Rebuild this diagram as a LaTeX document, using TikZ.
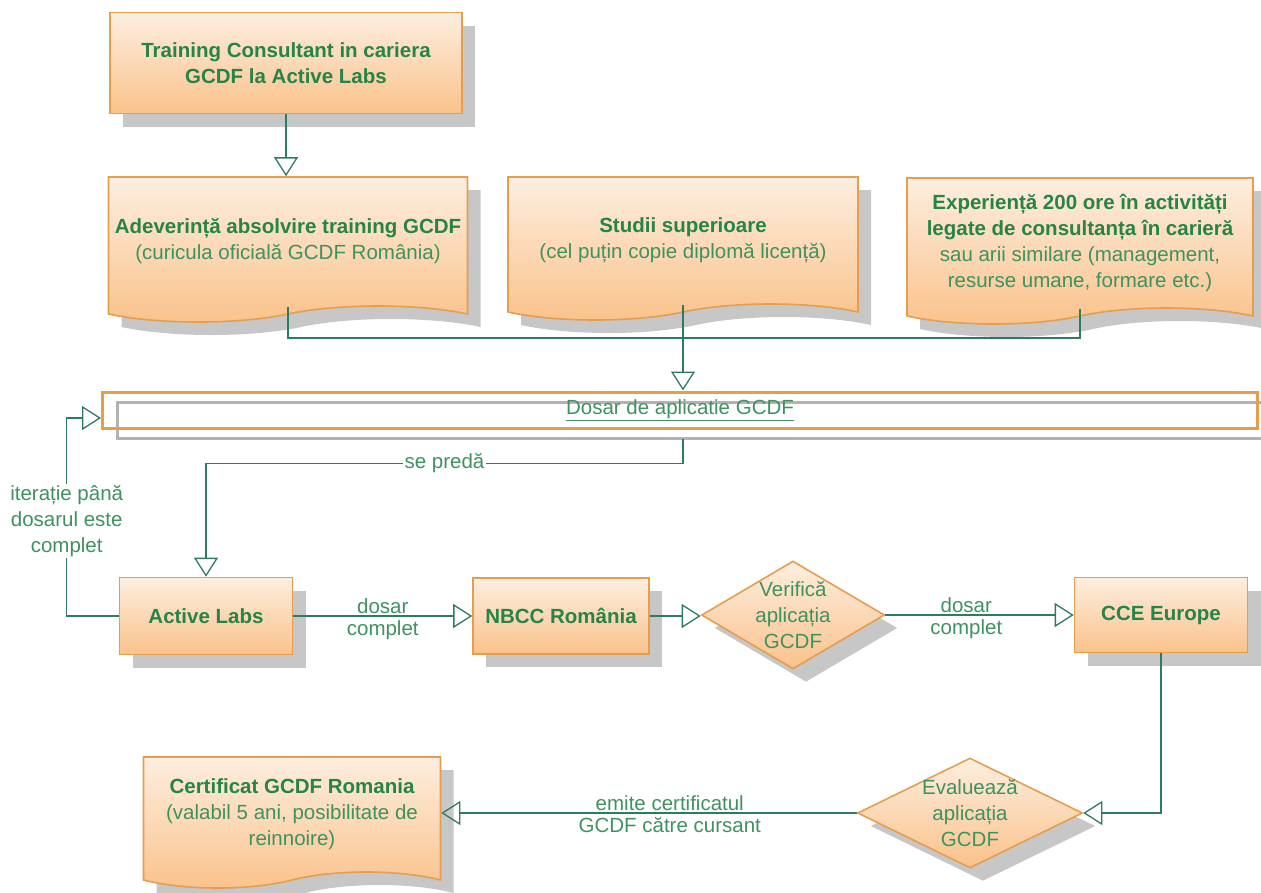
\documentclass[tikz,border=0pt]{standalone}
\usepackage{fontspec}
\setmainfont{Liberation Sans}
\usetikzlibrary{shapes.geometric, shapes.symbols, arrows.meta, shadows}

\definecolor{orbrd}{RGB}{230,158,78}
\definecolor{ortop}{RGB}{253,238,224}
\definecolor{orbot}{RGB}{250,194,138}
\definecolor{txtdark}{RGB}{38,132,72}
\definecolor{txtlight}{RGB}{62,146,96}
\definecolor{lijn}{RGB}{44,124,94}

\begin{document}
\begin{tikzpicture}[x=1pt, y=-1pt, font=\fontsize{20.5}{26}\selectfont]
  \tikzset{
    shade/.style={drop shadow={shadow xshift=13pt, shadow yshift=-13pt, fill=black!22, opacity=1}},
    box/.style={rectangle, draw=orbrd, line width=1.6pt, top color=ortop, bottom color=orbot,
      shade, align=center, text=txtdark, font=\fontsize{20.5}{26}\selectfont\bfseries, inner sep=2pt},
    doc/.style={tape, tape bend top=none, tape bend bottom=in and out, tape bend height=16pt,
      draw=orbrd, line width=1.6pt, top color=ortop, bottom color=orbot,
      shade, align=center, text=txtlight, inner sep=2pt},
    decision/.style={diamond, draw=orbrd, line width=1.6pt, top color=ortop, bottom color=orbot,
      shade, inner sep=0pt},
    lbl/.style={text=txtlight, align=center, inner sep=2pt},
    conn/.style={draw=lijn, line width=1.3pt},
    arr/.style={-{Triangle[open, length=19pt, width=24pt]}}
  }
  \useasboundingbox (0,0) rectangle (1261,892);

  % Start
  \node[box, minimum width=352pt, minimum height=101pt] (train) at (286,63)
    {Training Consultant in cariera\\GCDF la Active Labs};

  % --- Documente ---
  \node[doc, minimum width=359pt, minimum height=145pt] (adev) at (288,241.5)
    {{\bfseries\color{txtdark}Adeverință absolvire training GCDF}\\(curicula oficială GCDF România)};
  \node[doc, minimum width=350pt, minimum height=143pt] (studii) at (683,240.5)
    {{\bfseries\color{txtdark}Studii superioare}\\(cel puțin copie diplomă licență)};
  \node[doc, minimum width=346pt, minimum height=146pt] (exp) at (1080,243)
    {{\bfseries\color{txtdark}Experiență 200 ore în activități}\\{\bfseries\color{txtdark}legate de consultanța în carieră}\\sau arii similare (management,\\resurse umane, formare etc.)};

  \draw[conn, arr] (train.south) -- (train.south |- adev.north);

  % Dosar
  \node[rectangle, draw=orbrd, line width=3pt, minimum width=1155pt, minimum height=36pt,
    drop shadow={shadow xshift=15pt, shadow yshift=-10pt, fill=none, draw=black!30, line width=3pt, opacity=1},
    text=txtlight, inner sep=0pt] (dosar) at (680,410) {\underline{Dosar de aplicatie GCDF}};

  \coordinate (join) at (683,338);
  \draw[conn] (adev.south) |- (exp.south |- join) -- (exp.south);
  \draw[conn, arr] (studii.south) -- (studii.south |- dosar.north);

  % --- Rij 4 ---
  \node[box, minimum width=173pt, minimum height=77pt] (active) at (206,616) {Active Labs};
  \node[box, minimum width=176pt, minimum height=76pt] (nbcc) at (561,616) {NBCC România};
  \node[decision, minimum width=183pt, minimum height=108pt] (verif) at (793,615) {};
  \node[lbl] (verifT) at (verif) {Verifică\\aplicația\\GCDF};
  \node[box, minimum width=173pt, minimum height=75pt] (cce) at (1161,615) {CCE Europe};

  \coordinate (dosarS) at (studii.south |- dosar.south);
  \draw[conn, arr] ([yshift=-9pt]dosarS) -- ++(0,25) -| node[lbl, fill=white, pos=0.25] {se predă} (active.north);
  \draw[conn, arr] (active.west) -- ++(-52,0) |- node[lbl, fill=white, pos=0.24, inner sep=1pt]
    {iterație până\\dosarul este\\complet} ([yshift=-8pt]dosar.west);

  \draw[conn, arr] (active.east) -- node[lbl, above] {dosar} node[lbl, below=2pt] {complet} (active.east -| nbcc.west);
  \draw[conn, arr] (nbcc.east) -- (nbcc.east -| verif.west);
  \draw[conn, arr] (verif.east) -- node[lbl, above, pos=0.43] {dosar} node[lbl, below=2pt, pos=0.43] {complet} (verif.east -| cce.west);

  % --- Rij 5 ---
  \node[decision, minimum width=225pt, minimum height=110pt] (eval) at (970,813) {};
  \node[lbl] (evalT) at (eval) {Evaluează\\aplicația\\GCDF};
  \node[doc, minimum width=297pt, minimum height=131pt] (cert) at (292,814.5)
    {{\bfseries\color{txtdark}Certificat GCDF Romania}\\(valabil 5 ani, posibilitate de\\reinnoire)};

  \draw[conn, arr] (cce.south) |- (eval.east);
  \draw[conn, arr] (eval.west) -- node[lbl, above, pos=0.45] {emite certificatul}
    node[lbl, below=2pt, pos=0.45] {GCDF către cursant} (eval.west -| cert.east);
\end{tikzpicture}
\end{document}
